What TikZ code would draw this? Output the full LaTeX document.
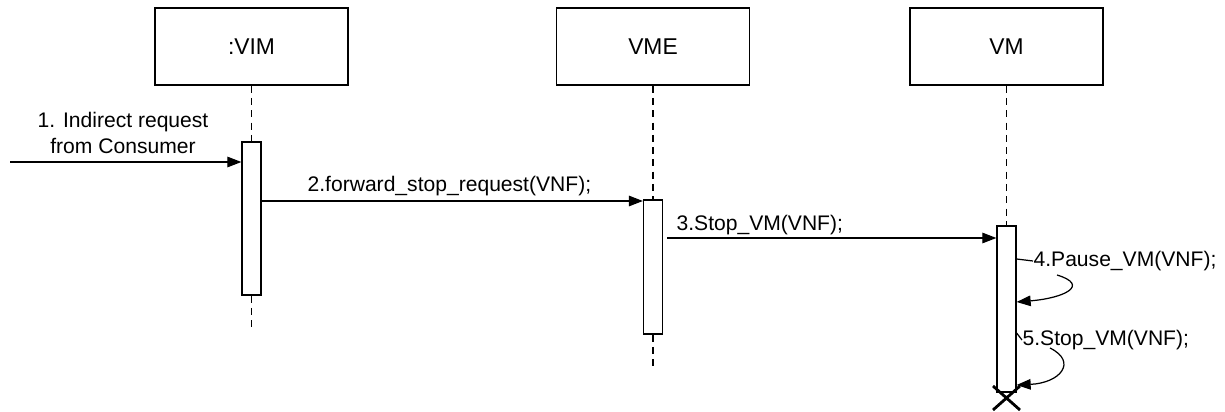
\documentclass[tikz,border=0pt]{standalone}
\usepackage{fontspec}
\setmainfont{Liberation Sans}
\usetikzlibrary{arrows.meta,positioning}

\begin{document}
\begin{tikzpicture}[x=0.02cm,y=-0.02cm,>={Triangle[length=8pt,width=6pt]},
                    line width=0.7pt,
    obj/.style={draw,rectangle,minimum width=3.86cm,minimum height=1.54cm,
                font=\fontsize{13}{15}\selectfont},
    bar/.style={draw,fill=white,rectangle,minimum width=0.38cm,inner sep=0pt},
    life/.style={dash pattern=on 4pt off 3pt},
    msg/.style={->},
    lbl/.style={font=\fontsize{12}{14.6}\selectfont,inner sep=0pt}]

\useasboundingbox (0,0) rectangle (1225,412);

% lifeline heads
\node[obj] (vim) at (251.5,46.5) {:VIM};
\node[obj] (vme) at (653,46.5)   {VME};
\node[obj] (vm)  at (1006.5,46.5) {VM};

% activations
\node[bar,minimum height=3.06cm] (vimbar) at (251.5,218.5) {};
\node[bar,minimum height=2.68cm] (vmebar) at (653,267)     {};
\node[bar,minimum height=3.32cm] (vmbar)  at (1006.5,309)  {};

\coordinate (vimend) at (251.5,332);
\coordinate (vmeend) at (653,367);
\coordinate (src)    at (10,162);

\draw[life] (vim) -- (vimbar) (vimbar) -- (vimend);
\draw[life] (vme) -- (vmebar) (vmebar) -- (vmeend);
\draw[life] (vm) -- (vmbar);

% messages
\draw[msg] (src) -- (vimbar.west |- src);
\node[lbl,align=center] (m1) at (123,133) {1. Indirect request\\from Consumer};

\draw[msg] (vimbar.east |- 0,201) -- (vmebar.west |- 0,201);
\node[lbl,anchor=west] (m2) at (307,186) {2.forward\_stop\_request(VNF);};

\draw[msg] ([xshift=0.08cm]vmebar.east |- 0,238) -- (vmbar.west |- 0,238);
\node[lbl,anchor=west] (m3) at (676,225) {3.Stop\_VM(VNF);};

% self calls
\node[lbl,anchor=west] (m4) at (1033,261) {4.Pause\_VM(VNF);};
\draw (vmbar.east |- 0,259) -- (m4.west);
\draw[msg] (1057,275) .. controls (1090,285) and (1065,298) .. (vmbar.east |- 0,302);

\node[lbl,anchor=west] (m5) at (1022,340) {5.Stop\_VM(VNF);};
\draw (vmbar.east |- 0,333) -- (m5.west);
\draw[msg] (1050,348) .. controls (1078,362) and (1060,383) .. (vmbar.east |- 0,385);

% destruction
\draw[line width=1.6pt] (993,386) -- (1020,410) (1020,386) -- (993,410);

\end{tikzpicture}
\end{document}
